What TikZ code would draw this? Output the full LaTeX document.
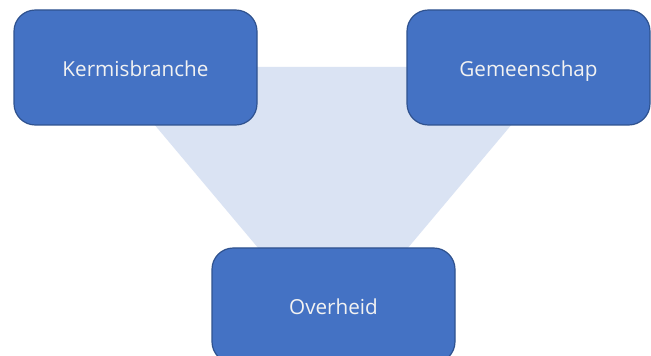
\documentclass[tikz,border=0pt]{standalone}
\usepackage{fontspec}
\setmainfont{Open Sans}
\definecolor{boxfill}{HTML}{4472C4}
\definecolor{boxline}{HTML}{2F528F}
\definecolor{trifill}{HTML}{DAE3F3}
\definecolor{txt}{HTML}{F2F2F2}
\begin{document}
\begin{tikzpicture}[x=0.75pt,y=-0.75pt,
  party/.style={draw=boxline, line width=0.9pt, fill=boxfill, rounded corners=16pt,
    minimum width=243*0.75pt, minimum height=115*0.75pt, inner sep=0pt,
    text height=14.2pt, text depth=0pt,
    text=txt, font=\fontsize{15.5}{18}\selectfont},
  tri/.style={fill=trifill, draw=none}]
  \clip (0,0) rectangle (651,356);
  \fill[white] (0,0) rectangle (651,356);
  \coordinate (tl) at (106,67);
  \coordinate (tr) at (560,67);
  \coordinate (tb) at (333,337);
  \fill[tri] (tl) -- (tr) -- (tb) -- cycle;
  \node[party] (kb) at (135.5,67.5) {Kermisbranche};
  \node[party] (gm) at (528.5,67.5) {Gemeenschap};
  \node[party] (oh) at (333.5,305.5) {Overheid};
\end{tikzpicture}
\end{document}
